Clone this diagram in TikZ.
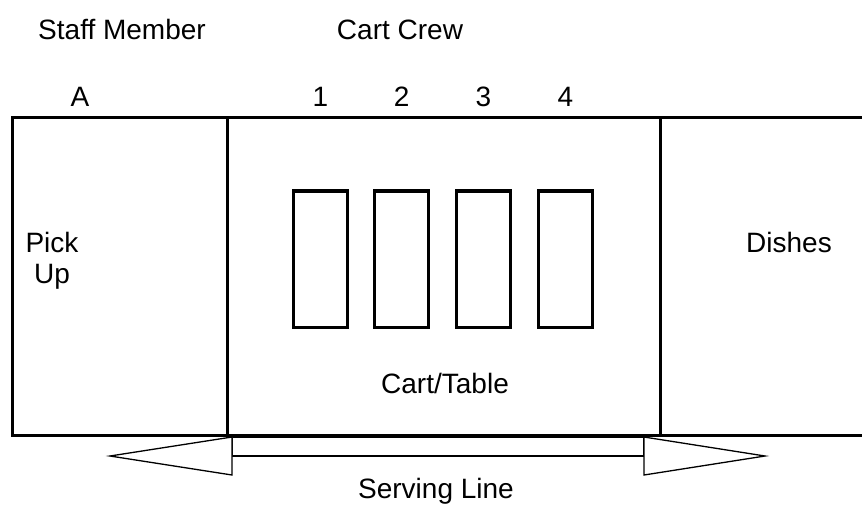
\documentclass[tikz,border=0pt]{standalone}
\usepackage{fontspec}
\setmainfont{Liberation Sans}
\begin{document}
\begin{tikzpicture}[x=1pt,y=-1pt,
  lbl/.style={anchor=base,inner sep=0pt,font=\fontsize{28}{31}\selectfont},
  frame/.style={line width=3pt,line cap=rect},
  slot/.style={draw,line width=3.5pt,minimum width=54pt,minimum height=136.5pt,inner sep=0pt},
  blockarrow/.style={draw,line width=1.3pt,line join=miter,fill=white}]
\useasboundingbox (0,0) rectangle (862,504);
% frame
\coordinate (tl) at (12,117);
\coordinate (bl) at (12,435);
\coordinate (tr) at (862,117);
\coordinate (br) at (862,435);
\coordinate (d1t) at (227,117);
\coordinate (d1b) at (227,435);
\coordinate (d2t) at (660,117);
\coordinate (d2b) at (660,435);
% serving line arrow
\draw[blockarrow] (232,437) rectangle (644,456);
\draw[blockarrow] (232,437) -- (110,456) -- (232,475) -- cycle;
\draw[blockarrow] (644,437) -- (765,456) -- (644,475) -- cycle;
\draw[frame] (tr) -- (tl) -- (bl) -- (br);
\draw[frame] (d1t) -- (d1b);
\draw[frame] (d2t) -- (d2b);
% slots
\node[slot] (s1) at (320.5,259) {};
\node[slot] (s2) at (401.7,259) {};
\node[slot] (s3) at (483.3,259) {};
\node[slot] (s4) at (565.3,259) {};
% labels
\node[lbl] (staff) at (122,39.5) {Staff Member};
\node[lbl] (crew) at (400,39.5) {Cart Crew};
\node[lbl] (a) at (80,106.7) {A};
\node[lbl] (n1) at (320.5,106.7) {1};
\node[lbl] (n2) at (401.7,106.7) {2};
\node[lbl] (n3) at (483.3,106.7) {3};
\node[lbl] (n4) at (565.3,106.7) {4};
\node[lbl,align=center] (pick) at (52,283) {Pick\\Up};
\node[lbl] (dishes) at (789,252) {Dishes};
\node[lbl] (cart) at (445,393) {Cart/Table};
\node[lbl] (serving) at (436,498) {Serving Line};
\end{tikzpicture}
\end{document}
